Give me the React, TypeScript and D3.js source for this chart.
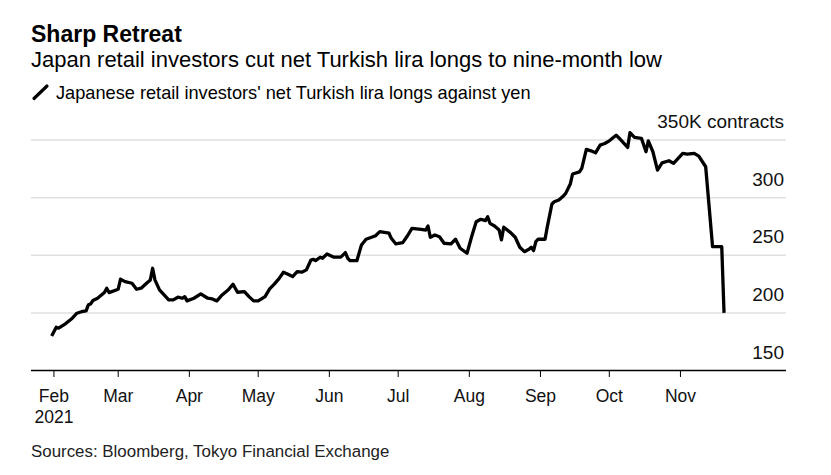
import React, { useEffect, useRef } from "react";
import * as d3 from "d3";

// Net Turkish lira longs against yen, thousand contracts
const dates = [
  "2021-01-31", "2021-02-02", "2021-02-03", "2021-02-06", "2021-02-09", "2021-02-11", "2021-02-13",
  "2021-02-15", "2021-02-16", "2021-02-17", "2021-02-18", "2021-02-20", "2021-02-23", "2021-02-24",
  "2021-02-25", "2021-03-01", "2021-03-02", "2021-03-04", "2021-03-07", "2021-03-09", "2021-03-11",
  "2021-03-13", "2021-03-15", "2021-03-16", "2021-03-17", "2021-03-19", "2021-03-21", "2021-03-23",
  "2021-03-25", "2021-03-27", "2021-03-29", "2021-03-30", "2021-03-31", "2021-04-03", "2021-04-06",
  "2021-04-09", "2021-04-11", "2021-04-13", "2021-04-15", "2021-04-18", "2021-04-20", "2021-04-22",
  "2021-04-25", "2021-04-27", "2021-04-29", "2021-05-01", "2021-05-04", "2021-05-06", "2021-05-08",
  "2021-05-10", "2021-05-12", "2021-05-14", "2021-05-16", "2021-05-18", "2021-05-20", "2021-05-22",
  "2021-05-24", "2021-05-25", "2021-05-26", "2021-05-28", "2021-05-29", "2021-05-31", "2021-06-03",
  "2021-06-06", "2021-06-08", "2021-06-09", "2021-06-10", "2021-06-13", "2021-06-15", "2021-06-17",
  "2021-06-20", "2021-06-21", "2021-06-23", "2021-06-27", "2021-06-28", "2021-06-30", "2021-07-03",
  "2021-07-05", "2021-07-07", "2021-07-11", "2021-07-13", "2021-07-14", "2021-07-15", "2021-07-17",
  "2021-07-19", "2021-07-21", "2021-07-24", "2021-07-26", "2021-07-28", "2021-07-31", "2021-08-02",
  "2021-08-04", "2021-08-06", "2021-08-08", "2021-08-09", "2021-08-10", "2021-08-12", "2021-08-14",
  "2021-08-15", "2021-08-16", "2021-08-19", "2021-08-21", "2021-08-23", "2021-08-25", "2021-08-27",
  "2021-08-28", "2021-08-29", "2021-08-30", "2021-08-31", "2021-09-03", "2021-09-04", "2021-09-06",
  "2021-09-07", "2021-09-09", "2021-09-11", "2021-09-12", "2021-09-14", "2021-09-15", "2021-09-18",
  "2021-09-19", "2021-09-21", "2021-09-23", "2021-09-25", "2021-09-27", "2021-09-29", "2021-10-01",
  "2021-10-04", "2021-10-05", "2021-10-09", "2021-10-10", "2021-10-12", "2021-10-15", "2021-10-17",
  "2021-10-18", "2021-10-20", "2021-10-22", "2021-10-24", "2021-10-27", "2021-10-29", "2021-11-02",
  "2021-11-04", "2021-11-07", "2021-11-09", "2021-11-12", "2021-11-15", "2021-11-19", "2021-11-20",
];

const values = [
  180, 187.6, 186.7, 190.5, 195.4, 199.7, 201,
  201.7, 207, 207.8, 210.7, 212.7, 217.6, 221.4,
  217.6, 220.5, 229.2, 227.1, 225.7, 220.5, 221.4,
  225.1, 228.6, 238.7, 228.6, 220, 215.6, 211.3,
  211.3, 213.6, 212.7, 214.1, 210.4, 212.7, 216.5,
  212.7, 212.1, 210.4, 215, 220, 224.9, 217.9,
  218.5, 214.1, 210.4, 210.4, 214.1, 220.8, 224.9,
  229.5, 235.3, 233.5, 231.5, 235.8, 235.3, 237.3,
  245.9, 246.5, 245.3, 248.3, 247.4, 251.1, 248.3,
  248.3, 252.3, 247.4, 245.3, 245.3, 258.9, 263.9,
  266.1, 266.7, 270.5, 269.1, 264.7, 259.8, 260.9,
  266.7, 273.4, 272.5, 271.9, 275.4, 265.6, 267.6,
  266.1, 260.4, 259.8, 263.9, 256.1, 251.7, 266.1,
  279.1, 281.2, 280, 283.4, 277.7, 275.4, 271.9,
  263.3, 274.3, 269.6, 265.6, 256.9, 253.1, 255.2,
  256.9, 254, 261.8, 263.9, 263.9, 274.8, 294.5,
  296.4, 297.9, 301.4, 303.7, 311.8, 320.5, 322.4,
  325.4, 341.9, 340.6, 338.9, 345.6, 347, 349.3,
  354.2, 352.2, 343.6, 356.3, 352.2, 351.4, 339.8,
  349.3, 339.8, 323.9, 330.2, 332, 329.7, 338.4,
  337.8, 338.4, 336, 326.8, 257.5, 257.5, 200,
];

const yTicks = [150, 200, 250, 300, 350];
const monthLabels = ["Feb", "Mar", "Apr", "May", "Jun", "Jul", "Aug", "Sep", "Oct", "Nov"];

const FONT = "'Liberation Sans', Arial, Helvetica, sans-serif";

const App = () => {
  const svgRef = useRef<SVGSVGElement | null>(null);

  useEffect(() => {
    if (!svgRef.current) return;
    const width = 831;
    const height = 475;

    const svg = d3.select(svgRef.current);
    svg.selectAll("*").remove();
    svg.attr("width", width).attr("height", height).style("font-family", FONT);

    svg.append("rect").attr("width", width).attr("height", height).attr("fill", "#fff");

    const parse = d3.timeParse("%Y-%m-%d");
    const data = dates.map((d, i) => ({ date: parse(d) as Date, value: values[i] }));

    // Scales
    const x = d3
      .scaleTime()
      .domain([new Date(2021, 0, 22), new Date(2021, 11, 17)])
      .range([31, 786]);
    const y = d3.scaleLinear().domain([150, 350]).range([370.5, 140]);

    // Titles
    svg.append("text")
      .attr("x", 31).attr("y", 42)
      .attr("font-size", 23).attr("font-weight", "bold").attr("fill", "#000")
      .text("Sharp Retreat");
    svg.append("text")
      .attr("x", 31).attr("y", 67)
      .attr("font-size", 22).attr("fill", "#000")
      .text("Japan retail investors cut net Turkish lira longs to nine-month low");

    // Legend
    svg.append("line")
      .attr("x1", 34).attr("y1", 98.5).attr("x2", 47).attr("y2", 86)
      .attr("stroke", "#000").attr("stroke-width", 3.2).attr("stroke-linecap", "round");
    svg.append("text")
      .attr("x", 56).attr("y", 99)
      .attr("font-size", 18.2).attr("fill", "#000")
      .text("Japanese retail investors' net Turkish lira longs against yen");

    // Gridlines
    svg.append("g")
      .selectAll("line")
      .data(yTicks.filter((t) => t > 150))
      .enter()
      .append("line")
      .attr("x1", 31).attr("x2", 786)
      .attr("y1", (d) => y(d)).attr("y2", (d) => y(d))
      .attr("stroke", "#e0e0e0").attr("stroke-width", 1.5);

    // Y labels (above gridlines, right side)
    svg.append("g")
      .selectAll("text")
      .data(yTicks)
      .enter()
      .append("text")
      .attr("x", 784)
      .attr("y", (d) => y(d) - 12)
      .attr("text-anchor", "end")
      .attr("font-size", 19)
      .attr("fill", "#111")
      .text((d) => (d === 350 ? "350K contracts" : String(d)));

    // X axis
    const monthTicks = monthLabels.map((_, i) => new Date(2021, i + 1, 1));
    const xAxis = svg.append("g").attr("transform", `translate(0,${y(150)})`);
    xAxis.append("line")
      .attr("x1", 31).attr("x2", 786)
      .attr("stroke", "#000").attr("stroke-width", 1.5);
    xAxis.selectAll(".tick")
      .data(monthTicks)
      .enter()
      .append("line")
      .attr("x1", (d) => x(d)).attr("x2", (d) => x(d))
      .attr("y1", 0).attr("y2", 6.5)
      .attr("stroke", "#000").attr("stroke-width", 1);
    xAxis.selectAll(".lbl")
      .data(monthTicks)
      .enter()
      .append("text")
      .attr("x", (d) => x(d))
      .attr("y", 31)
      .attr("text-anchor", "middle")
      .attr("font-size", 17.5)
      .attr("fill", "#111")
      .text((_, i) => monthLabels[i]);
    xAxis.append("text")
      .attr("x", x(monthTicks[0]))
      .attr("y", 52.5)
      .attr("text-anchor", "middle")
      .attr("font-size", 17.5)
      .attr("fill", "#111")
      .text("2021");

    // Line
    const line = d3
      .line<{ date: Date; value: number }>()
      .x((d) => x(d.date))
      .y((d) => y(d.value));
    svg.append("path")
      .datum(data)
      .attr("d", line)
      .attr("fill", "none")
      .attr("stroke", "#000")
      .attr("stroke-width", 3.3)
      .attr("stroke-linejoin", "round");

    // Source
    svg.append("text")
      .attr("x", 31).attr("y", 457)
      .attr("font-size", 16.9).attr("fill", "#222")
      .text("Sources: Bloomberg, Tokyo Financial Exchange");
  }, []);

  return (
    <svg ref={svgRef} style={{ position: "absolute", left: 0, top: 0 }}></svg>
  );
};

export default App;
